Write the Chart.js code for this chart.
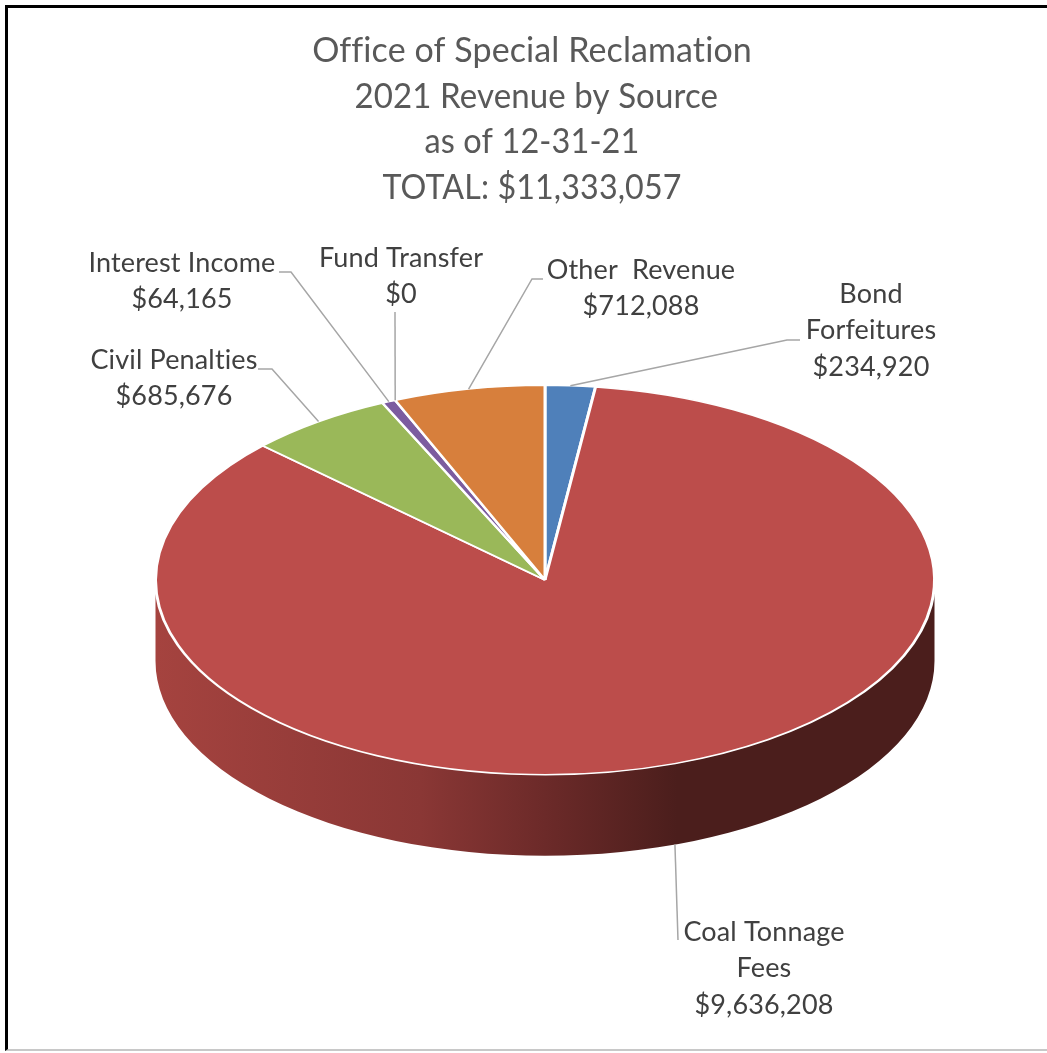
<!DOCTYPE html>
<html>
<head>
<meta charset="utf-8">
<title>2021 Revenue by Source</title>
<script src="https://cdn.jsdelivr.net/npm/chart.js@4"></script>
<style>
  html, body { margin: 0; padding: 0; background: #fff; }
  #marco { position: absolute; left: 5px; top: 5px; width: 1042px; height: 1046px; box-sizing: border-box;
           border-left: 3px solid #000; border-top: 3px solid #000; border-bottom: 2px solid #c8c8c8; }
  #grafica { position: absolute; left: 0; top: 0; }
</style>
</head>
<body>
<canvas id="grafica" width="1047" height="1053"></canvas>
<div id="marco"></div>
<script>
const categorias = ['Bond Forfeitures', 'Coal Tonnage Fees', 'Civil Penalties', 'Interest Income', 'Fund Transfer', 'Other  Revenue'];
const valores = [234920, 9636208, 685676, 64165, 0, 712088];
const colores = ['#4f80ba', '#bc4d4b', '#9ab859', '#7c5c9f', '#4bacc6', '#d77f3c'];
const titulo = ['Office of Special Reclamation', ' 2021 Revenue by Source', 'as of 12-31-21', 'TOTAL: $11,333,057'];
const anchoTitulo = [440, 372, 215, 299];   // Lato digits run wide, hold each line to the original width
const FUENTE = 'Lato, Carlito, sans-serif';
const ACHATADO = 0.5;   // vertical squash of the pie
const GROSOR = 81;      // height of the side wall

const dinero = v => '$' + v.toLocaleString('en-US');

// label blocks: centre x, first baseline y, text lines, leader line points (the slice end is added from the arc)
const etiquetas = [
  { i: 0, x: 871, y: 303, lineas: ['Bond', 'Forfeitures'], guia: [[800, 340], [787, 340]] },
  { i: 1, x: 764, y: 941, lineas: ['Coal Tonnage', 'Fees'], guia: [[678, 940]], abajo: true },
  { i: 2, x: 174, y: 369, lineas: ['Civil Penalties'], guia: [[258, 369], [272, 369]] },
  { i: 3, x: 182, y: 272, lineas: ['Interest Income'], guia: [[279, 272], [291, 272]] },
  { i: 4, x: 401, y: 267, lineas: ['Fund Transfer'], guia: [[395, 312]] },
  { i: 5, x: 641, y: 279, lineas: ['Other  Revenue'], guia: [[543, 279], [532, 279]] },
];

// point on the rim of the flattened pie, at the middle of a slice
function puntoBorde(arco, extra) {
  const p = arco.getProps(['x', 'y', 'startAngle', 'endAngle', 'outerRadius'], true);
  const a = (p.startAngle + p.endAngle) / 2;
  return [p.x + Math.cos(a) * p.outerRadius, p.y + Math.sin(a) * p.outerRadius * ACHATADO + (extra || 0)];
}

const pastel3d = {
  id: 'pastel3d',
  beforeDatasetsDraw(chart) {
    const ctx = chart.ctx;
    const arcos = chart.getDatasetMeta(0).data;
    const { x: cx, y: cy, outerRadius: r } = arcos[0].getProps(['x', 'y', 'outerRadius'], true);

    // side wall of the slices that face the viewer
    arcos.forEach(arco => {
      const p = arco.getProps(['startAngle', 'endAngle'], true);
      const a0 = Math.max(p.startAngle, 0);
      const a1 = Math.min(p.endAngle, Math.PI);
      if (a1 <= a0) return;
      const g = ctx.createLinearGradient(cx - r, 0, cx + r, 0);
      g.addColorStop(0, '#a5433f');
      g.addColorStop(0.34, '#8a3735');
      g.addColorStop(0.5, '#6c2a29');
      g.addColorStop(0.67, '#4b1e1c');
      g.addColorStop(1, '#4b1e1c');
      ctx.save();
      ctx.fillStyle = g;
      ctx.beginPath();
      ctx.ellipse(cx, cy, r, r * ACHATADO, 0, a0, a1);
      ctx.ellipse(cx, cy + GROSOR, r, r * ACHATADO, 0, a1, a0, true);
      ctx.closePath();
      ctx.fill();
      ctx.restore();
    });

    // squash the pie itself
    ctx.save();
    ctx.translate(0, cy);
    ctx.scale(1, ACHATADO);
    ctx.translate(0, -cy);
  },
  afterDatasetsDraw(chart) {
    const ctx = chart.ctx;
    ctx.restore();
    const arcos = chart.getDatasetMeta(0).data;

    ctx.save();
    ctx.textAlign = 'center';
    ctx.textBaseline = 'alphabetic';

    ctx.fillStyle = '#595959';
    ctx.font = '34px ' + FUENTE;
    ctx.letterSpacing = '0.1px';   // also turns off the Lato "ti" ligature
    titulo.forEach((t, n) => ctx.fillText(t, 532, 62 + n * 45.6, anchoTitulo[n]));

    etiquetas.forEach(et => {
      ctx.strokeStyle = '#a6a6a6';
      ctx.lineWidth = 1.5;
      ctx.beginPath();
      et.guia.forEach((p, n) => n ? ctx.lineTo(p[0], p[1]) : ctx.moveTo(p[0], p[1]));
      const fin = puntoBorde(arcos[et.i], et.abajo ? GROSOR : 0);
      ctx.lineTo(fin[0], fin[1]);
      ctx.stroke();

      ctx.fillStyle = '#404040';
      ctx.font = '27px ' + FUENTE;
      ctx.letterSpacing = '0.15px';
      et.lineas.concat(dinero(valores[et.i])).forEach((t, n) => ctx.fillText(t, et.x, et.y + n * 36.3));
    });
    ctx.restore();
  }
};

new Chart(document.getElementById('grafica'), {
  type: 'pie',
  data: {
    labels: categorias,
    datasets: [{
      data: valores,
      backgroundColor: colores,
      borderColor: '#ffffff',
      borderWidth: 3,
      clip: false
    }]
  },
  options: {
    responsive: false,
    animation: false,
    events: [],
    layout: { padding: { left: 154, right: 111, top: 189, bottom: 82 } },
    plugins: { legend: { display: false }, tooltip: { enabled: false }, title: { display: false } }
  },
  plugins: [pastel3d]
});
</script>
</body>
</html>
